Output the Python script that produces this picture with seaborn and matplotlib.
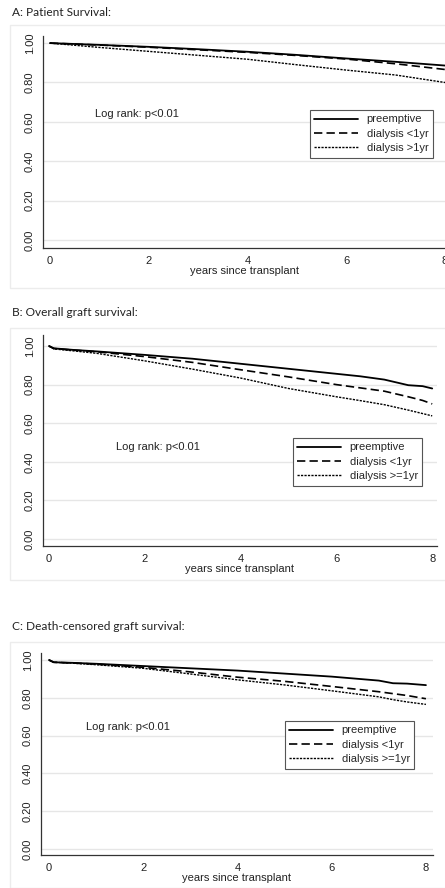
import matplotlib
matplotlib.use('Agg')
import matplotlib.pyplot as plt
from matplotlib.patches import Rectangle
import seaborn as sns

# Datos (supervivencia Kaplan-Meier, años desde el trasplante)
labels_a = ['preemptive', 'dialysis <1yr', 'dialysis >1yr']
labels_bc = ['preemptive', 'dialysis <1yr', 'dialysis >=1yr']

years_a = [0, 1, 2, 3, 4, 5, 6, 7, 8]
a_pre = [1.0, 0.991, 0.981, 0.969, 0.956, 0.940, 0.922, 0.905, 0.886]
a_lt1 = [1.0, 0.990, 0.979, 0.966, 0.953, 0.937, 0.919, 0.895, 0.866]
a_gt1 = [1.0, 0.978, 0.958, 0.938, 0.918, 0.890, 0.863, 0.838, 0.800]

years_b = [0, 0.1, 0.5, 1, 2, 3, 4, 5, 6, 6.5, 7, 7.5, 7.8, 8]
b_pre = [1.0, 0.988, 0.980, 0.972, 0.954, 0.934, 0.908, 0.882, 0.856, 0.843,
         0.826, 0.797, 0.792, 0.780]
b_lt1 = [1.0, 0.987, 0.979, 0.970, 0.945, 0.915, 0.877, 0.840, 0.800, 0.783,
         0.766, 0.737, 0.718, 0.700]
b_ge1 = [1.0, 0.985, 0.975, 0.962, 0.923, 0.880, 0.834, 0.780, 0.737, 0.717,
         0.696, 0.668, 0.650, 0.638]

years_c = [0, 0.1, 0.5, 1, 2, 3, 4, 5, 6, 7, 7.3, 7.6, 8]
c_pre = [1.0, 0.988, 0.985, 0.980, 0.968, 0.956, 0.944, 0.928, 0.912, 0.891,
         0.877, 0.875, 0.867]
c_lt1 = [1.0, 0.988, 0.984, 0.978, 0.961, 0.937, 0.909, 0.887, 0.860, 0.832,
         0.822, 0.812, 0.795]
c_ge1 = [1.0, 0.988, 0.983, 0.975, 0.956, 0.926, 0.895, 0.868, 0.837, 0.805,
         0.790, 0.778, 0.765]

titles = ['A: Patient Survival:', 'B: Overall graft survival:',
          'C: Death-censored graft survival:']

W, H = 445, 888
FS = 8
sns.set_style('white')
plt.rcParams['font.family'] = ['Liberation Sans', 'DejaVu Sans']

fig = plt.figure(figsize=(W / 100, H / 100), dpi=100)


def fx(x):
    return x / W


def fy(y):
    return 1 - y / H


def add_panel(box, frame, xlim, ylim, years, series, labels,
              logrank_xy, legend_xy):
    '''Dibuja un panel de supervivencia a partir de cajas en píxeles'''
    # marco gris claro del panel
    fig.patches.append(Rectangle((fx(frame[0]), fy(frame[3])),
                                 fx(frame[2] - frame[0]), (frame[3] - frame[1]) / H,
                                 transform=fig.transFigure, fill=False,
                                 edgecolor='#ececec', linewidth=1))
    x0, y0, x1, y1 = box
    ax = fig.add_axes([fx(x0), fy(y1), fx(x1 - x0), (y1 - y0) / H])
    styles = ['-', (0, (5, 2.5)), (0, (1.6, 0.9))]
    widths = [1.3, 1.2, 1.0]
    for vals, lab, ls, lw in zip(series, labels, styles, widths):
        sns.lineplot(x=years, y=vals, ax=ax, color='black', linestyle=ls,
                     linewidth=lw, label=lab)
    ax.set_xlim(*xlim)
    ax.set_ylim(*ylim)
    ax.set_xticks([0, 2, 4, 6, 8])
    ax.set_yticks([0, 0.2, 0.4, 0.6, 0.8, 1.0])
    ax.set_yticklabels(['0.00', '0.20', '0.40', '0.60', '0.80', '1.00'],
                       rotation=90, va='center')
    ax.yaxis.grid(True, color='#e6e6e6', linewidth=1)
    ax.set_axisbelow(True)
    for s in ['top', 'right']:
        ax.spines[s].set_visible(False)
    for s in ['left', 'bottom']:
        ax.spines[s].set_color('#333333')
        ax.spines[s].set_linewidth(0.9)
    ax.tick_params(axis='both', length=3, width=0.8, color='#444444',
                   labelsize=FS, pad=3, labelcolor='#222222')
    ax.set_xlabel('years since transplant', fontsize=FS, labelpad=0,
                  color='#222222')
    ax.set_ylabel('')
    ax.text(logrank_xy[0], logrank_xy[1], 'Log rank: p<0.01', fontsize=FS,
            transform=fig.transFigure, va='center', color='#222222')
    leg = ax.legend(loc='upper left', bbox_to_anchor=legend_xy,
                    bbox_transform=fig.transFigure, fontsize=FS,
                    handlelength=3.9, handletextpad=0.8, labelspacing=0.4,
                    borderpad=0.4, borderaxespad=0, fancybox=False,
                    framealpha=1)
    leg.get_frame().set_edgecolor('#555555')
    leg.get_frame().set_linewidth(0.8)
    return ax


panels = [
    dict(box=(43, 36, 446, 248), frame=(10, 25, 446, 288), title_y=13,
         xlim=(-0.14, 8.02), ylim=(-0.04, 1.036), years=years_a,
         series=[a_pre, a_lt1, a_gt1], labels=labels_a,
         logrank=(95, 114), legend=(310, 110)),
    dict(box=(43, 335, 437, 546), frame=(10, 328, 446, 580), title_y=313,
         xlim=(-0.125, 8.1), ylim=(-0.036, 1.057), years=years_b,
         series=[b_pre, b_lt1, b_ge1], labels=labels_bc,
         logrank=(116, 447), legend=(293, 438)),
    dict(box=(41, 653, 433, 855), frame=(10, 642, 446, 888), title_y=627,
         xlim=(-0.17, 8.15), ylim=(-0.032, 1.037), years=years_c,
         series=[c_pre, c_lt1, c_ge1], labels=labels_bc,
         logrank=(86, 727), legend=(285, 721)),
]

for p, title in zip(panels, titles):
    add_panel(p['box'], p['frame'], p['xlim'], p['ylim'],
              p['years'], p['series'], p['labels'],
              (fx(p['logrank'][0]), fy(p['logrank'][1])),
              (fx(p['legend'][0]), fy(p['legend'][1])))
    fig.text(fx(12), fy(p['title_y']), title, fontsize=8.6, family='Lato',
             va='center', color='#222222')

fig.savefig('out.png', dpi=100, facecolor='white')
